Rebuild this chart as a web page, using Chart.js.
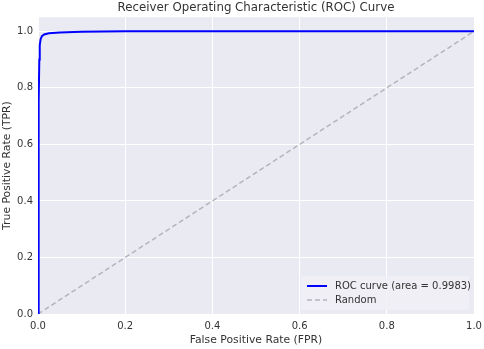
<!DOCTYPE html>
<html>
<head>
<meta charset="utf-8">
<script src="https://cdn.jsdelivr.net/npm/chart.js@4.4.1/dist/chart.umd.min.js"></script>
<style>
    html, body { margin: 0; padding: 0; background: #fff; }
    #wrap { width: 484px; height: 349px; }
</style>
</head>
<body>
<div id="wrap"><canvas id="roc"></canvas></div>
<script>
// ROC curve points (FPR, TPR)
const rocFpr = [0, 0.001, 0.002, 0.003, 0.004, 0.006, 0.009, 0.014, 0.025, 0.05, 0.1, 0.2, 0.5, 1.0];
const rocTpr = [0, 0.35, 0.75, 0.9, 0.95, 0.972, 0.983, 0.989, 0.993, 0.996, 0.998, 1.0, 1.0, 1.0];
const randomFpr = [0, 1];
const randomTpr = [0, 1];
const xTicks = [0, 0.2, 0.4, 0.6, 0.8, 1.0];
const yTicks = [0, 0.2, 0.4, 0.6, 0.8, 1.0];
const aucLabel = "ROC curve (area = 0.9983)";

const fontFamily = "'DejaVu Sans', sans-serif";
const textColor = "#333333";

// seaborn style background for the plot area
const bgPlugin = {
    id: "bg",
    beforeDraw(chart) {
        const { ctx, chartArea: a } = chart;
        ctx.save();
        ctx.fillStyle = "#EAEAF2";
        ctx.fillRect(a.left, a.top, a.right - a.left, a.bottom - a.top);
        ctx.restore();
    }
};

// legend in the lower right corner, inside the axes
const legendPlugin = {
    id: "innerLegend",
    afterDatasetsDraw(chart) {
        const { ctx, chartArea: a } = chart;
        const boxW = 168, boxH = 34;
        const x0 = a.right - boxW - 5, y0 = a.bottom - boxH - 4;
        ctx.save();
        ctx.fillStyle = "rgba(240,240,246,0.85)";
        ctx.fillRect(x0, y0, boxW, boxH);
        ctx.font = "10px " + fontFamily;
        ctx.textBaseline = "middle";
        chart.data.datasets.forEach((ds, i) => {
            const y = y0 + 10 + i * 14;
            ctx.beginPath();
            ctx.strokeStyle = ds.borderColor;
            ctx.lineWidth = ds.borderWidth;
            ctx.setLineDash(ds.borderDash || []);
            ctx.moveTo(x0 + 6, y);
            ctx.lineTo(x0 + 26, y);
            ctx.stroke();
            ctx.setLineDash([]);
            ctx.fillStyle = textColor;
            ctx.fillText(ds.label, x0 + 34, y);
        });
        ctx.restore();
    }
};

new Chart(document.getElementById("roc"), {
    type: "scatter",
    data: {
        datasets: [
            {
                label: aucLabel,
                data: rocFpr.map((x, i) => ({ x: x, y: rocTpr[i] })),
                showLine: true,
                borderColor: "#0000FF",
                borderWidth: 2,
                pointRadius: 0,
                tension: 0
            },
            {
                label: "Random",
                data: randomFpr.map((x, i) => ({ x: x, y: randomTpr[i] })),
                showLine: true,
                borderColor: "#B4B4BC",
                borderWidth: 1.5,
                borderDash: [5, 3],
                pointRadius: 0
            }
        ]
    },
    options: {
        responsive: true,
        maintainAspectRatio: false,
        animation: false,
        layout: { padding: { left: 0, right: 10, top: 0, bottom: 0 } },
        plugins: {
            legend: { display: false },
            tooltip: { enabled: false },
            title: {
                display: true,
                text: "Receiver Operating Characteristic (ROC) Curve",
                fullSize: false,
                color: textColor,
                font: { family: fontFamily, size: 11.8, weight: "normal" },
                padding: { top: 1, bottom: 2 }
            }
        },
        scales: {
            x: {
                type: "linear",
                min: 0,
                max: 1,
                afterBuildTicks: (scale) => { scale.ticks = xTicks.map(v => ({ value: v })); },
                afterFit: (scale) => {
                    scale.height = 35;
                    scale.paddingLeft = 0;
                    scale.paddingRight = 0;
                },
                grid: { color: "#FFFFFF", lineWidth: 1, drawTicks: false },
                border: { display: false },
                ticks: {
                    color: textColor,
                    padding: 6,
                    font: { family: fontFamily, size: 10 },
                    callback: (v) => v.toFixed(1)
                },
                title: {
                    display: true,
                    text: "False Positive Rate (FPR)",
                    color: textColor,
                    font: { family: fontFamily, size: 10.8 },
                    padding: { top: 0, bottom: 2 }
                }
            },
            y: {
                type: "linear",
                min: 0,
                max: 1.05,
                afterBuildTicks: (scale) => { scale.ticks = yTicks.map(v => ({ value: v })); },
                afterFit: (scale) => {
                    scale.width = 38;
                    scale.paddingTop = 0;
                    scale.paddingBottom = 0;
                },
                grid: { color: "#FFFFFF", lineWidth: 1, drawTicks: false },
                border: { display: false },
                ticks: {
                    color: textColor,
                    padding: 5,
                    font: { family: fontFamily, size: 10 },
                    callback: (v) => v.toFixed(1)
                },
                title: {
                    display: true,
                    text: "True Positive Rate (TPR)",
                    color: textColor,
                    font: { family: fontFamily, size: 10.8 },
                    padding: { top: 1, bottom: 0 }
                }
            }
        }
    },
    plugins: [bgPlugin, legendPlugin]
});
</script>
</body>
</html>
